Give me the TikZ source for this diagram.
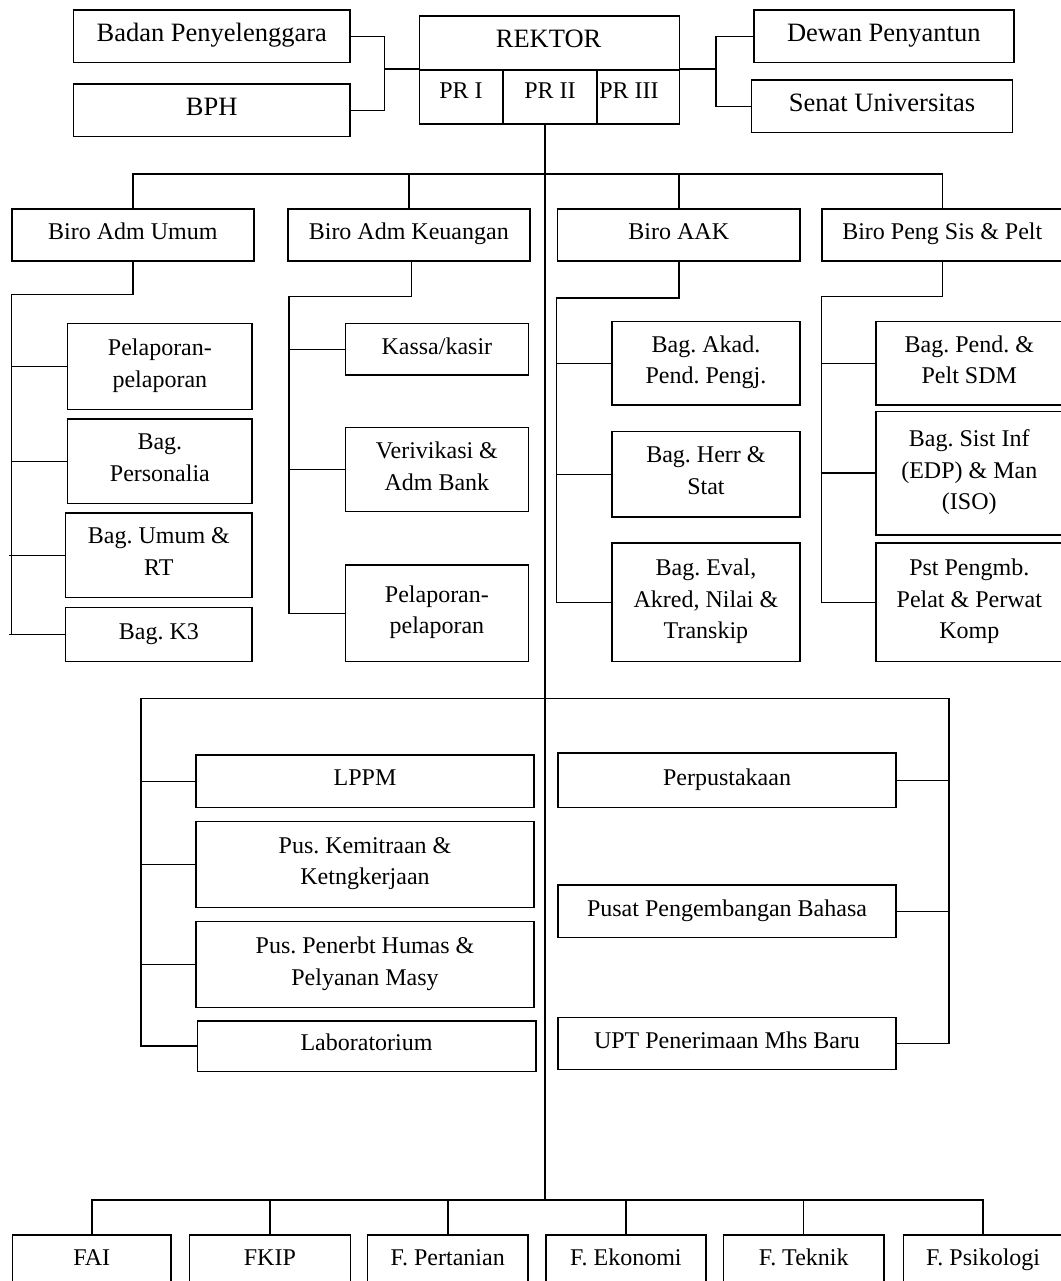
\documentclass[tikz,border=0pt]{standalone}
\usepackage{fontspec}
\setmainfont{Liberation Serif}
\newcommand\mystrut{\rule[-7pt]{0pt}{23pt}}
\newcommand\bigstrut{\rule[-7.5pt]{0pt}{25pt}}
\begin{document}
\frenchspacing
\begin{tikzpicture}[x=1pt,y=-1pt,
  bx/.style={draw, line width=1.6pt, inner sep=0pt, anchor=north west, align=center,
    font=\fontsize{24}{31.7}\selectfont,
    execute at begin node=\mystrut, execute at end node=\mystrut},
  bxt/.style={bx, font=\fontsize{26.5}{32}\selectfont,
    execute at begin node=\bigstrut, execute at end node=\bigstrut},
  lbl/.style={inner sep=0pt, font=\fontsize{24}{31.7}\selectfont,
    execute at begin node=\mystrut},
  conn/.style={line width=1.5pt},
  spine/.style={line width=1.2pt}]
\useasboundingbox (0,0) rectangle (1060,1281);
\fill[white] (0,0) rectangle (1060,1281);

% ---------- top ----------
\node[bxt, minimum width=276.5pt, minimum height=52.4pt] (badan) at (72.7,9.3) {Badan Penyelenggara};
\node[bxt, minimum width=276.5pt, minimum height=52.4pt] (bph) at (72.7,83.3) {BPH};
\node[draw, line width=1.6pt, inner sep=0pt, anchor=north west, minimum width=260.2pt, minimum height=108.3pt] (rektor) at (418.5,15) {};
\node[bxt, minimum width=260pt, minimum height=52.4pt] (dewan) at (753,9.3) {Dewan Penyantun};
\node[bxt, minimum width=260.9pt, minimum height=52.4pt] (senat) at (750.8,79.3) {Senat Universitas};

\draw[line width=1.6pt] (rektor.west) -- (rektor.east);
\draw[line width=1.6pt] (503,69.2) -- (503,123.3);
\draw[line width=1.6pt] (597,69.2) -- (597,123.3);
\node[inner sep=0pt, font=\fontsize{26.5}{32}\selectfont, execute at begin node=\bigstrut] (rektorT) at (548.6,42) {REKTOR};
\node[lbl] (pr1) at (461,94) {PR I};
\node[lbl] (pr2) at (550,94) {PR II};
\node[lbl] (pr3) at (629,94) {PR III};

\coordinate (lj) at (384.7,69.2);
\coordinate (rj) at (716,69.2);
\draw[conn] (badan.east) -| (lj) |- (bph.east);
\draw[conn] (lj) -- (lj -| rektor.west);
\draw[conn] (rj -| rektor.east) -- (rj);
\draw[conn] (dewan.west) -| (rj) |- (senat.west);

\coordinate (rk) at (545,123.3);

% ---------- biro row ----------
\node[bx, minimum width=242pt, minimum height=52pt] (biroAU) at (11,208.3) {Biro Adm Umum};
\node[bx, minimum width=242pt, minimum height=52pt] (biroAK) at (287,208.3) {Biro Adm Keuangan};
\node[bx, minimum width=242.6pt, minimum height=52pt] (biroAAK) at (556.7,208.3) {Biro AAK};
\node[bx, minimum width=241pt, minimum height=52pt] (biroPS) at (821,208.3) {Biro Peng Sis \& Pelt};

\coordinate (bb) at (0,174);
\draw[conn] (biroAU.north) |- (biroPS.north |- bb) -- (biroPS.north);
\draw[conn] (biroAK.north) -- (biroAK.north |- bb);
\draw[conn] (biroAAK.north) -- (biroAAK.north |- bb);

% ---------- Adm Umum ----------
\node[bx, minimum width=184.6pt, minimum height=86pt] (auP) at (66.8,322.7) {Pelaporan-\\pelaporan};
\node[bx, minimum width=184.6pt, minimum height=84.4pt] (auPers) at (66.8,418.3) {Bag.\\Personalia};
\node[bx, minimum width=186.7pt, minimum height=84.4pt] (auUm) at (64.7,512.3) {Bag. Umum \&\\RT};
\node[bx, minimum width=186.7pt, minimum height=54pt] (auK3) at (64.7,606.7) {Bag. K3};
\coordinate (auE) at (11.4,294.3);
\draw[conn] (biroAU.south) |- (auE) -- (auE |- auK3.west);
\draw[conn] (auP.west) -- (auP.west -| auE);
\draw[conn] (auPers.west) -- (auPers.west -| auE);
\draw[conn] (auUm.west) -- ([xshift=-2.8pt]auUm.west -| auE);
\draw[conn] (auK3.west) -- ([xshift=-2.8pt]auK3.west -| auE);

% ---------- Adm Keuangan ----------
\node[bx, minimum width=182.8pt, minimum height=51.6pt] (akK) at (344.7,322.7) {Kassa/kasir};
\node[bx, minimum width=182.8pt, minimum height=84pt] (akV) at (344.7,426.7) {Verivikasi \&\\Adm Bank};
\node[bx, minimum width=182.8pt, minimum height=96.4pt] (akP) at (344.7,564.3) {Pelaporan-\\pelaporan};
\coordinate (akE) at (289,296.7);
\draw[conn] ([xshift=2.5pt]biroAK.south) |- (akE) |- (akP.west);
\draw[conn] (akK.west) -- (akK.west -| akE);
\draw[conn] (akV.west) -- (akV.west -| akE);

% ---------- AAK ----------
\node[bx, minimum width=188.3pt, minimum height=83.6pt] (aaA) at (611,320.7) {Bag. Akad.\\Pend. Pengj.};
\node[bx, minimum width=188.3pt, minimum height=85.6pt] (aaH) at (611,430.7) {Bag. Herr \&\\Stat};
\node[bx, minimum width=188.3pt, minimum height=118.4pt] (aaE) at (611,542.3) {Bag. Eval,\\Akred, Nilai \&\\Transkip};
\coordinate (aaEl) at (556.7,298);
\draw[conn] (biroAAK.south) |- (aaEl) |- (aaE.west);
\draw[conn] (aaA.west) -- (aaA.west -| aaEl);
\draw[conn] (aaH.west) -- (aaH.west -| aaEl);

% ---------- Peng Sis ----------
\node[bx, minimum width=187pt, minimum height=83.6pt] (psS) at (875,320.7) {Bag. Pend. \&\\Pelt SDM};
\node[bx, minimum width=187pt, minimum height=123.3pt] (psI) at (875,410.7) {Bag. Sist Inf\\(EDP) \& Man\\(ISO)};
\node[bx, minimum width=187pt, minimum height=118.4pt] (psP) at (875,542.3) {Pst Pengmb.\\Pelat \& Perwat\\Komp};
\coordinate (psEl) at (821.3,296.3);
\draw[conn] (biroPS.south) |- (psEl) |- (psP.west);
\draw[conn] (psS.west) -- (psS.west -| psEl);
\draw[conn] (psI.west) -- (psI.west -| psEl);

% ---------- middle ----------
\node[bx, minimum width=338.4pt, minimum height=52.4pt] (lp) at (195,754.3) {LPPM};
\node[bx, minimum width=338.4pt, minimum height=86pt] (km) at (195,820.7) {Pus. Kemitraan \&\\Ketngkerjaan};
\node[bx, minimum width=338.4pt, minimum height=86pt] (pn) at (195,920.7) {Pus. Penerbt Humas \&\\Pelyanan Masy};
\node[bx, minimum width=338.5pt, minimum height=50.7pt] (lab) at (196.5,1020) {Laboratorium};
\node[bx, minimum width=338.4pt, minimum height=54.4pt] (perp) at (557,752.3) {Perpustakaan};
\node[bx, minimum width=338.4pt, minimum height=52.4pt] (bhs) at (557,884.3) {Pusat Pengembangan Bahasa};
\node[bx, minimum width=338.4pt, minimum height=52pt] (upt) at (557,1016.7) {UPT Penerimaan Mhs Baru};
\coordinate (mL) at (141,698.3);
\coordinate (mR) at (949,698.3);
\draw[conn] (lab.west) -- (lab.west -| mL) |- (mR) |- (upt.east);
\draw[conn] (lp.west) -- (lp.west -| mL);
\draw[conn] (km.west) -- (km.west -| mL);
\draw[conn] (pn.west) -- (pn.west -| mL);
\draw[conn] (perp.east) -- (perp.east -| mR);
\draw[conn] (bhs.east) -- (bhs.east -| mR);

% ---------- faculties ----------
\node[bx, minimum width=158.9pt, minimum height=51.7pt] (fai) at (11.5,1234.3) {FAI};
\node[bx, minimum width=161pt, minimum height=51.7pt] (fkip) at (188.6,1234.3) {FKIP};
\node[bx, minimum width=160.9pt, minimum height=51.7pt] (fper) at (366.5,1234.3) {F. Pertanian};
\node[bx, minimum width=160.2pt, minimum height=51.7pt] (feko) at (545,1234.3) {F. Ekonomi};
\node[bx, minimum width=160.2pt, minimum height=51.7pt] (ftek) at (722.8,1234.3) {F. Teknik};
\node[bx, minimum width=159.4pt, minimum height=51.7pt] (fpsi) at (902.6,1234.3) {F. Psikologi};
\coordinate (fb) at (0,1200);
\draw[conn] (fai.north) |- (fpsi.north |- fb) -- (fpsi.north);
\draw[conn] (fkip.north) -- (fkip.north |- fb);
\draw[conn] (fper.north) -- (fper.north |- fb);
\draw[conn] (feko.north) -- (feko.north |- fb);
\draw[conn] (ftek.north) -- (ftek.north |- fb);

% main spine
\draw[spine] (rk) -- (rk |- fb);
\end{tikzpicture}
\end{document}
